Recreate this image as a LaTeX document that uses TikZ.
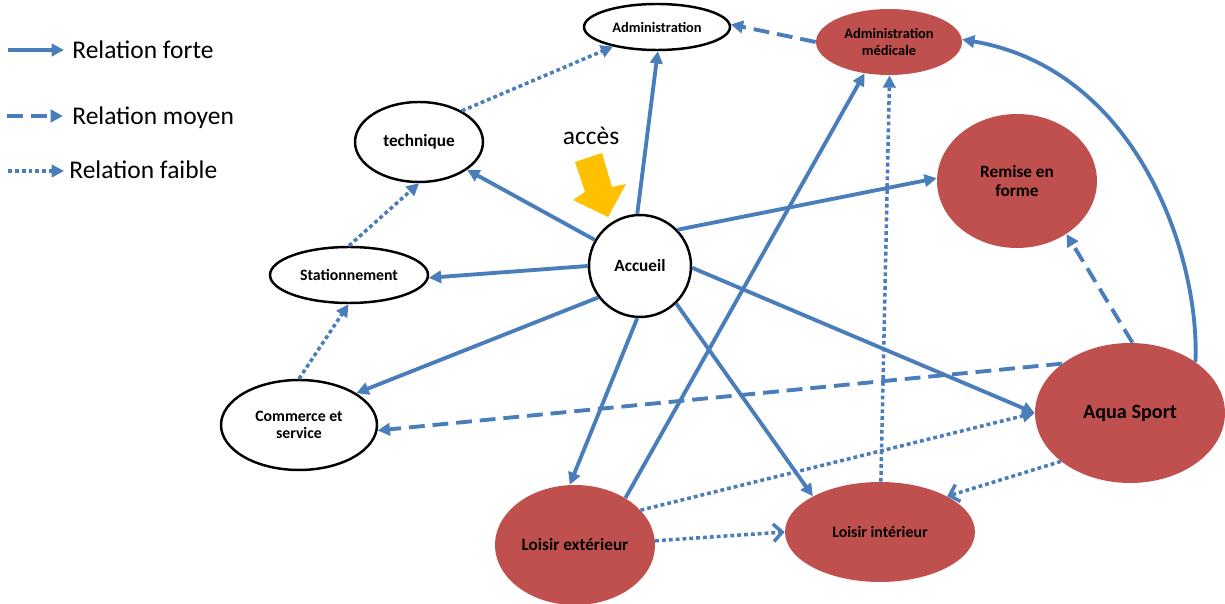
\documentclass[tikz,border=0pt]{standalone}
\usepackage{fontspec}
\setmainfont{Carlito}
\usetikzlibrary{arrows.meta, shapes.geometric}
\definecolor{bleu}{HTML}{4A7EBB}
\definecolor{brique}{HTML}{C0504D}
\definecolor{jaune}{HTML}{FFC000}

\begin{document}
\begin{tikzpicture}[
  x=0.02cm, y=-0.02cm,
  blanc/.style={ellipse, draw, line width=1.4pt, fill=white, inner sep=0pt,
                align=center, font=\bfseries\fontsize{9}{10}\selectfont},
  plein/.style={ellipse, fill=brique, inner sep=0pt,
                align=center, font=\bfseries\fontsize{9.8}{10.8}\selectfont},
  legende/.style={anchor=west, inner sep=0pt, font=\fontsize{14.5}{17}\selectfont},
  forte/.style={-{Triangle[length=7pt,width=7pt]}, line width=2.2pt, draw=bleu},
  moyen/.style={forte, dash pattern=on 9pt off 4.5pt},
  faible/.style={forte, line width=2pt, dash pattern=on 2.2pt off 1.7pt},
  ouvert/.style={-{Straight Barb[length=5pt,width=10pt,line width=2pt]}}
]
  \useasboundingbox (0,0) rectangle (1225,604);

  \coordinate (f1) at (8,50);   \coordinate (f2) at (64,50);
  \coordinate (m1) at (7,116);  \coordinate (m2) at (63,116);
  \coordinate (d1) at (8,171);  \coordinate (d2) at (64,171);
  \node[legende] (tforte)  at (72,50)  {Relation forte};
  \node[legende] (tmoyen)  at (72,118) {Relation moyen};
  \node[legende] (tfaible) at (69,170) {Relation faible};
  \draw[forte]  (f1) -- (f2);
  \draw[moyen]  (m1) -- (m2);
  \draw[faible] (d1) -- (d2);

  \node[blanc, minimum width=2.92cm, minimum height=0.92cm,
        font=\bfseries\fontsize{8.2}{9.6}\selectfont] (admin) at (657,27) {Administration};
  \node[plein, minimum width=2.92cm, minimum height=1.32cm,
        font=\bfseries\fontsize{8.2}{9.6}\selectfont] (admmed) at (889,42) {Administration\\médicale};
  \node[blanc, minimum width=2.56cm, minimum height=1.6cm,
        font=\bfseries\fontsize{9.8}{10.8}\selectfont] (tech) at (419,142) {technique};
  \node[blanc, minimum width=2.04cm, minimum height=2.04cm,
        font=\bfseries\fontsize{9.8}{10.8}\selectfont] (acc) at (640,266) {Accueil};
  \node[blanc, minimum width=3.16cm, minimum height=1.12cm] (stat) at (349,275) {Stationnement};
  \node[blanc, minimum width=3.12cm, minimum height=1.8cm] (comm) at (299,425) {Commerce et\\service};
  \node[plein, minimum width=3.2cm, minimum height=2.68cm] (remise) at (1017,181) {Remise en\\forme};
  \node[plein, minimum width=3.8cm, minimum height=2.8cm,
        font=\bfseries\fontsize{11.5}{13}\selectfont] (aqua) at (1130,413) {Aqua Sport};
  \node[plein, minimum width=3.8cm, minimum height=2cm,
        font=\bfseries\fontsize{9}{10}\selectfont] (lint) at (880,532) {Loisir intérieur};
  \node[plein, minimum width=3.2cm, minimum height=2.4cm] (lext) at (575,545) {Loisir extérieur};

  \node[font=\fontsize{14.5}{17}\selectfont] (acces) at (591,136) {accès};
  \fill[jaune] (575,162) -- (602,153) -- (612,187) -- (626,184) -- (608,217)
       -- (573,200) -- (585,192) -- cycle;

  \draw[forte] (acc.150) -- (tech.-30);
  \draw[forte] (acc.93) -- (admin.-88);
  \draw[forte] (acc.180) -- (stat.-2);
  \draw[forte] (acc.217) -- (comm.29);
  \draw[forte] (acc.44) -- (remise.178);
  \draw[forte] (acc.-2) -- (aqua.180);
  \draw[forte] (acc.-46) -- (lint.152);
  \draw[forte] (acc.-93) -- (lext.95);
  \draw[forte] (lext.43) -- (admmed.-128);
  \draw[forte] (aqua.38) .. controls (1200,260) and (1140,70) .. (admmed.2);

  \draw[moyen] (admmed.180) -- (admin.2);
  \draw[moyen] (aqua.144) -- (comm.-4);
  \draw[moyen] (aqua.88) -- (remise.-47);

  \draw[faible] (tech.36) -- (admin.204);
  \draw[faible] (stat.90) -- (tech.-90);
  \draw[faible] (comm.90) -- (stat.-91);
  \draw[faible] (lint.89) -- (admmed.-89);
  \draw[faible] (lext.28) -- (aqua.180);
  \draw[faible, ouvert] (lext.3) -- (lint.180);
  \draw[faible, ouvert] (aqua.215) -- (lint.28);
\end{tikzpicture}
\end{document}
